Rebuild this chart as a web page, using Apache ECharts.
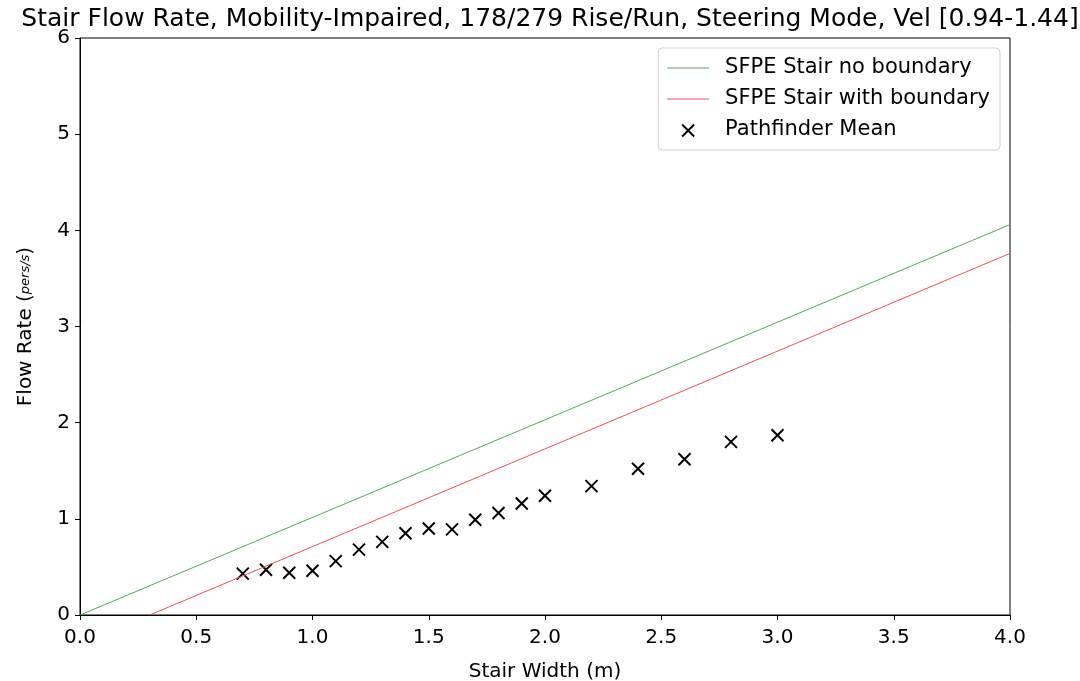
<!DOCTYPE html>
<html>
<head>
<meta charset="utf-8">
<script src="https://cdn.jsdelivr.net/npm/echarts@6/dist/echarts.min.js"></script>
<style>
html,body{margin:0;padding:0;background:#fff;}
#chart{width:1080px;height:681px;}
</style>
</head>
<body>
<div id="chart"></div>
<script>
// stair widths (m) and mean flow rate from Pathfinder
var widths = [0.7, 0.8, 0.9, 1.0, 1.1, 1.2, 1.3, 1.4, 1.5, 1.6, 1.7, 1.8, 1.9, 2.0, 2.2, 2.4, 2.6, 2.8, 3.0];
var pfMean = [0.43, 0.47, 0.44, 0.46, 0.56, 0.68, 0.76, 0.85, 0.90, 0.89, 0.99, 1.06, 1.16, 1.24, 1.34, 1.52, 1.62, 1.80, 1.87];

// SFPE lines, end points
var sfpeNoBoundary = [[0, 0], [4, 4.06]];
var sfpeBoundary = [[0.3, 0], [4, 3.76]];

var font = 'DejaVu Sans';
var xPath = 'path://M0,0 L10,10 M10,0 L0,10';
// legend icons (extra moveTo points keep the box size)
var lineIcon = 'path://M0,0 M53,18 M0,8.4 L42,8.4 L42,9.6 L0,9.6 Z';
var xIcon = 'path://M0,0 M53,18 M15,3.5 L27,15.5 M27,3.5 L15,15.5';

var chart = echarts.init(document.getElementById('chart'));
var option = {
	animation: false,
	backgroundColor: '#fff',
	title: {
		text: 'Stair Flow Rate, Mobility-Impaired, 178/279 Rise/Run, Steering Mode, Vel [0.94-1.44]',
		left: 545,
		textAlign: 'center',
		top: 2,
		textStyle: {fontFamily: font, fontSize: 25, fontWeight: 'normal', color: '#000'}
	},
	legend: {
		orient: 'vertical',
		right: 80,
		top: 48,
		padding: [8, 10, 8, 8],
		itemGap: 7,
		itemWidth: 53,
		itemHeight: 18,
		backgroundColor: '#fff',
		borderColor: '#d0d0d0',
		borderWidth: 1,
		borderRadius: 4,
		textStyle: {fontFamily: font, fontSize: 21, lineHeight: 24, color: '#000'},
		data: [
			{name: 'SFPE Stair no boundary', icon: lineIcon},
			{name: 'SFPE Stair with boundary', icon: lineIcon},
			{name: 'Pathfinder Mean', icon: xIcon, itemStyle: {color: '#000', borderColor: '#000', borderWidth: 1.8, opacity: 1}}
		]
	},
	grid: {
		left: 80, right: 70, top: 38, bottom: 66,
		outerBoundsMode: 'none',
		show: true, borderColor: '#000', borderWidth: 1
	},
	xAxis: {
		type: 'value',
		min: 0, max: 4, interval: 0.5,
		name: 'Stair Width (m)',
		nameLocation: 'middle',
		nameGap: 47,
		nameTextStyle: {fontFamily: font, fontSize: 20, color: '#000'},
		axisLine: {show: true, lineStyle: {color: '#000', width: 1}},
		axisTick: {show: true, length: 5, lineStyle: {color: '#000'}},
		axisLabel: {fontFamily: font, fontSize: 20, color: '#000', margin: 13,
			formatter: function (v) { return v.toFixed(1); }},
		splitLine: {show: false}
	},
	yAxis: {
		type: 'value',
		min: 0, max: 6, interval: 1,
		name: 'Flow Rate ({f|pers/s})',
		nameLocation: 'middle',
		nameGap: 44,
		nameTextStyle: {fontFamily: font, fontSize: 20, color: '#000',
			rich: {f: {fontFamily: font, fontSize: 13, fontStyle: 'italic', color: '#000'}}},
		axisLine: {show: true, lineStyle: {color: '#000', width: 1}},
		axisTick: {show: true, length: 5, lineStyle: {color: '#000'}},
		axisLabel: {fontFamily: font, fontSize: 20, color: '#000', margin: 10},
		splitLine: {show: false}
	},
	series: [
		{
			name: 'SFPE Stair no boundary',
			type: 'line',
			data: sfpeNoBoundary,
			symbol: 'none',
			lineStyle: {color: '#55a855', width: 1},
			itemStyle: {color: '#55a855'}
		},
		{
			name: 'SFPE Stair with boundary',
			type: 'line',
			data: sfpeBoundary,
			symbol: 'none',
			lineStyle: {color: '#f05050', width: 1},
			itemStyle: {color: '#f05050'}
		},
		{
			name: 'Pathfinder Mean',
			type: 'scatter',
			data: widths.map(function (w, i) { return [w, pfMean[i]]; }),
			symbol: xPath,
			symbolSize: 12,
			itemStyle: {color: '#000', borderColor: '#000', borderWidth: 2, opacity: 1}
		}
	]
};
chart.setOption(option);
</script>
</body>
</html>
